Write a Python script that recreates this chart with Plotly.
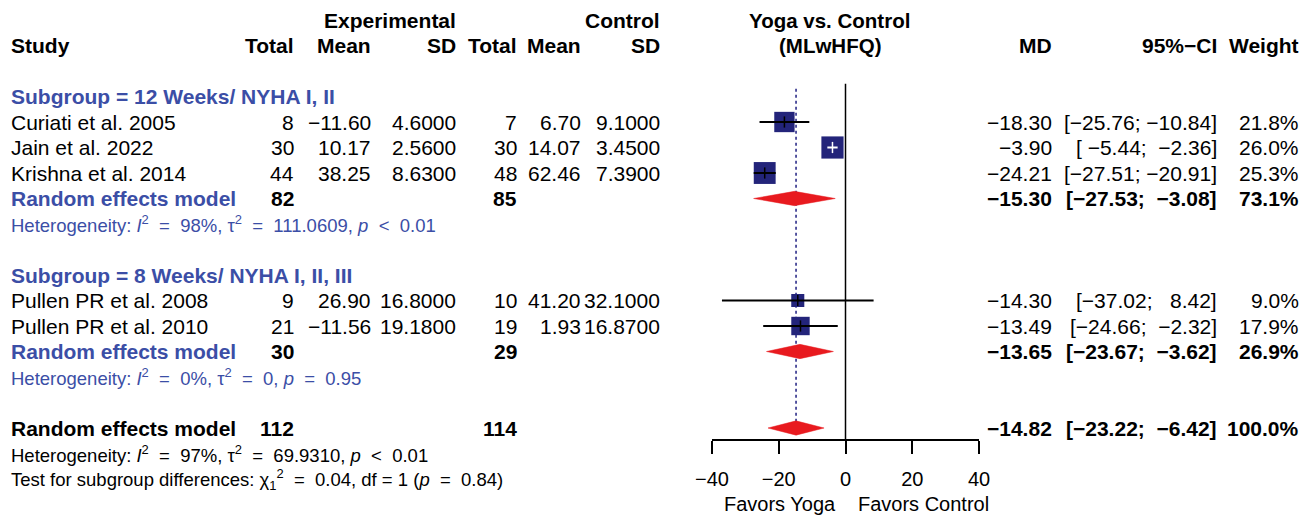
import plotly.graph_objects as go
import numpy as np

# ---------------- data ----------------
studies = ["Curiati et al. 2005", "Jain et al. 2022", "Krishna et al. 2014",
           "Pullen PR et al. 2008", "Pullen PR et al. 2010"]
study_group = [0, 0, 0, 1, 1]
exp_total = [8, 30, 44, 9, 21]
exp_mean = [-11.60, 10.17, 38.25, 26.90, -11.56]
exp_sd = [4.6, 2.56, 8.63, 16.8, 19.18]
ctl_total = [7, 30, 48, 10, 19]
ctl_mean = [6.70, 14.07, 62.46, 41.20, 1.93]
ctl_sd = [9.1, 3.45, 7.39, 32.1, 16.87]
md = [-18.30, -3.90, -24.21, -14.30, -13.49]
ci_lo = [-25.76, -5.44, -27.51, -37.02, -24.66]
ci_hi = [-10.84, -2.36, -20.91, 8.42, -2.32]
weight = [21.8, 26.0, 25.3, 9.0, 17.9]

group_labels = ["Subgroup = 12 Weeks/ NYHA I, II", "Subgroup = 8 Weeks/ NYHA I, II, III"]
group_exp_total = [82, 30]
group_ctl_total = [85, 29]
group_md = [-15.30, -13.65]
group_lo = [-27.53, -23.67]
group_hi = [-3.08, -3.62]
group_weight = [73.1, 26.9]
group_i2 = ["98%", "0%"]
group_tau2 = ["111.0609", "0"]
group_p = ["&lt; 0.01", "= 0.95"]

overall_exp_total = 112
overall_ctl_total = 114
overall_md = -14.82
overall_lo = -23.22
overall_hi = -6.42
overall_weight = 100.0
overall_i2 = "97%"
overall_tau2 = "69.9310"
overall_p = "&lt; 0.01"
test_chi2 = "0.04"
test_df = "1"
test_p = "0.84"

tick_vals = [-40, -20, 0, 20, 40]
tick_text = ["−40", "−20", "0", "20", "40"]
label_left = "Favors Yoga"
label_right = "Favors Control"

# ---------------- layout constants ----------------
W, H = 1312, 516
ROW_PX = 25.5
TOP_PX = 20.0
y_top = -TOP_PX / ROW_PX
y_bot = y_top + H / ROW_PX
X_LEFT_PX, X_RIGHT_PX = 712, 979
XMIN, XMAX = -40, 40
px_per_unit = (X_RIGHT_PX - X_LEFT_PX) / (XMAX - XMIN)
SQ_SCALE = 4.35
FONT = "Liberation Sans, Arial, Helvetica, sans-serif"
FS = 21
FS_HET = 18.5
NAVY = "#23247A"
BLUE = "#3B4EA6"
RED = "#E81A1F"

NBSP = "\u00a0"
EQ = NBSP * 2 + "=" + NBSP * 2


def op(s):
    # plotmath-like wide spacing around relational operators
    sym, val = s.split(" ", 1)
    return NBSP * 2 + sym + NBSP * 2 + val


def het_text(i2, tau2, p):
    return ("Heterogeneity: <i>I</i><sup>2</sup>" + EQ + i2 + ", τ<sup>2</sup>" + EQ + tau2
            + ", <i>p</i>" + op(p))


subgroup_test = ("Test for subgroup differences: χ<sub>1</sub><sup>2</sup>" + EQ + test_chi2
                 + ", df = " + test_df + " (<i>p</i>" + EQ + test_p + ")")


def num(v, d):
    return f"{v:.{d}f}".replace("-", "−")


def pad(s, w):
    return NBSP * (w - len(s)) + s


all_lo = ci_lo + group_lo + [overall_lo]
all_hi = ci_hi + group_hi + [overall_hi]
wlo = max(len(num(v, 2)) for v in all_lo)
whi = max(len(num(v, 2)) for v in all_hi)


def ci_str(lo, hi):
    return "[" + pad(num(lo, 2), wlo) + ";" + NBSP + pad(num(hi, 2), whi) + "]"


# row assignment
rows_study, rows_group_label, rows_group_re, rows_group_het = [], [], [], []
r = 3
for g in range(len(group_labels)):
    rows_group_label.append(r)
    r += 1
    for i, sg in enumerate(study_group):
        if sg == g:
            rows_study.append(r)
            r += 1
    rows_group_re.append(r)
    rows_group_het.append(r + 1)
    r += 3
row_overall = rows_group_het[-1] + 2
row_overall_het = row_overall + 1
row_test = row_overall + 2
row_axis = (440 - TOP_PX) / ROW_PX
row_favors = (504 - TOP_PX) / ROW_PX

# column right edges (px)
COL = dict(study=10, et=295, em=372, esd=457, ct=518, cm=582, csd=661,
           md=1053, ci=1218, w=1300)

ann = []


def txt(xpx, row, text, anchor="right", color="black", size=FS, bold=False):
    if bold:
        text = "<b>" + text + "</b>"
    ann.append(dict(x=xpx / W, xref="paper", y=row, yref="y", text=text,
                    xanchor=anchor, yanchor="middle", showarrow=False, borderpad=0,
                    font=dict(family=FONT, size=size, color=color)))


# headers
txt(COL["esd"], 0, "Experimental", bold=True)
txt(COL["csd"], 0, "Control", bold=True)
txt(COL["study"], 1, "Study", anchor="left", bold=True)
for key, lab in [("et", "Total"), ("em", "Mean"), ("esd", "SD"),
                 ("ct", "Total"), ("cm", "Mean"), ("csd", "SD"),
                 ("md", "MD"), ("ci", "95%−CI"), ("w", "Weight")]:
    txt(COL[key], 1, lab, bold=True)
txt(830, 0, "Yoga vs. Control", anchor="center", bold=True, size=20.5)
txt(830, 1, "(MLwHFQ)", anchor="center", bold=True, size=20.5)

# studies
for i, rr in enumerate(rows_study):
    txt(COL["study"], rr, studies[i], anchor="left")
    txt(COL["et"], rr, str(exp_total[i]))
    txt(COL["em"], rr, num(exp_mean[i], 2))
    txt(COL["esd"], rr, num(exp_sd[i], 4))
    txt(COL["ct"], rr, str(ctl_total[i]))
    txt(COL["cm"], rr, num(ctl_mean[i], 2))
    txt(COL["csd"], rr, num(ctl_sd[i], 4))
    txt(COL["md"], rr, num(md[i], 2))
    txt(COL["ci"], rr, ci_str(ci_lo[i], ci_hi[i]))
    txt(COL["w"], rr, f"{weight[i]:.1f}%")

# subgroups
for g in range(len(group_labels)):
    txt(COL["study"], rows_group_label[g], group_labels[g], anchor="left", color=BLUE, bold=True)
    rr = rows_group_re[g]
    txt(COL["study"], rr, "Random effects model", anchor="left", color=BLUE, bold=True)
    txt(COL["et"], rr, str(group_exp_total[g]), bold=True)
    txt(COL["ct"], rr, str(group_ctl_total[g]), bold=True)
    txt(COL["md"], rr, num(group_md[g], 2), bold=True)
    txt(COL["ci"], rr, ci_str(group_lo[g], group_hi[g]), bold=True)
    txt(COL["w"], rr, f"{group_weight[g]:.1f}%", bold=True)
    txt(COL["study"], rows_group_het[g], het_text(group_i2[g], group_tau2[g], group_p[g]),
        anchor="left", color=BLUE, size=FS_HET)

# overall
txt(COL["study"], row_overall, "Random effects model", anchor="left", bold=True)
txt(COL["et"], row_overall, str(overall_exp_total), bold=True)
txt(COL["ct"], row_overall, str(overall_ctl_total), bold=True)
txt(COL["md"], row_overall, num(overall_md, 2), bold=True)
txt(COL["ci"], row_overall, ci_str(overall_lo, overall_hi), bold=True)
txt(COL["w"], row_overall, f"{overall_weight:.1f}%", bold=True)
txt(COL["study"], row_overall_het, het_text(overall_i2, overall_tau2, overall_p),
    anchor="left", size=FS_HET)
txt(COL["study"], row_test, subgroup_test, anchor="left", size=FS_HET)

# favors labels
ann.append(dict(x=0, xref="x", y=row_favors, yref="y", text=label_left, xanchor="right",
                yanchor="middle", xshift=-9, showarrow=False, borderpad=0,
                font=dict(family=FONT, size=20, color="black")))
ann.append(dict(x=0, xref="x", y=row_favors, yref="y", text=label_right, xanchor="left",
                yanchor="middle", xshift=11, showarrow=False, borderpad=0,
                font=dict(family=FONT, size=20, color="black")))

fig = go.Figure()

# zero line
fig.add_trace(go.Scatter(x=[0, 0], y=[2.5, row_axis], mode="lines",
                         line=dict(color="black", width=1.5), hoverinfo="skip"))
# overall effect dotted line
fig.add_trace(go.Scatter(x=[overall_md, overall_md], y=[2.7, row_axis - 0.3], mode="lines",
                         line=dict(color="#2E2E8A", width=1.6, dash="dot"), hoverinfo="skip"))

# squares
sizes = [SQ_SCALE * np.sqrt(w) for w in weight]
fig.add_trace(go.Scatter(x=md, y=rows_study, mode="markers",
                         marker=dict(symbol="square", size=sizes, color=NAVY, opacity=1,
                                     line=dict(width=0)),
                         hoverinfo="skip"))

# CI lines (white if inside the square)
for col_name in ["black", "white"]:
    xs, ys, mx, my = [], [], [], []
    for i, rr in enumerate(rows_study):
        inside = (ci_hi[i] - ci_lo[i]) * px_per_unit <= sizes[i]
        if (col_name == "white") == inside:
            xs += [ci_lo[i], ci_hi[i], None]
            ys += [rr, rr, None]
            mx.append(md[i])
            my.append(rr)
    if xs:
        fig.add_trace(go.Scatter(x=xs, y=ys, mode="lines", line=dict(color=col_name, width=2),
                                 hoverinfo="skip"))
        fig.add_trace(go.Scatter(x=mx, y=my, mode="markers",
                                 marker=dict(symbol="line-ns-open", size=8, color=col_name,
                                             line=dict(color=col_name, width=1.5)),
                                 hoverinfo="skip"))

# diamonds
HALF = 0.28
dx, dy = [], []
for m, lo, hi, rr in zip(group_md + [overall_md], group_lo + [overall_lo],
                         group_hi + [overall_hi], rows_group_re + [row_overall]):
    dx += [lo, m, hi, m, lo, None]
    dy += [rr, rr - HALF, rr, rr + HALF, rr, None]
fig.add_trace(go.Scatter(x=dx, y=dy, mode="lines", fill="toself", fillcolor=RED,
                         line=dict(color=RED, width=0.5), hoverinfo="skip"))

fig.update_layout(
    width=W, height=H, margin=dict(l=0, r=0, t=0, b=0, autoexpand=False),
    paper_bgcolor="white", plot_bgcolor="rgba(0,0,0,0)",
    showlegend=False, annotations=ann,
    xaxis=dict(domain=[X_LEFT_PX / W, X_RIGHT_PX / W], range=[XMIN, XMAX],
               anchor="free", position=1 - (row_axis - y_top) / (y_bot - y_top),
               showline=True, linecolor="black", linewidth=1.5,
               ticks="outside", ticklen=13, tickwidth=1.5, tickcolor="black",
               ticklabelstandoff=8,
               tickvals=tick_vals, ticktext=tick_text, showgrid=False, zeroline=False,
               tickfont=dict(family=FONT, size=20, color="black")),
    yaxis=dict(domain=[0, 1], range=[y_bot, y_top], visible=False, showgrid=False,
               zeroline=False),
)

fig.write_html("out.html", config={"displayModeBar": False},
               post_script="document.body.style.margin='0px';document.body.style.overflow='hidden';")
